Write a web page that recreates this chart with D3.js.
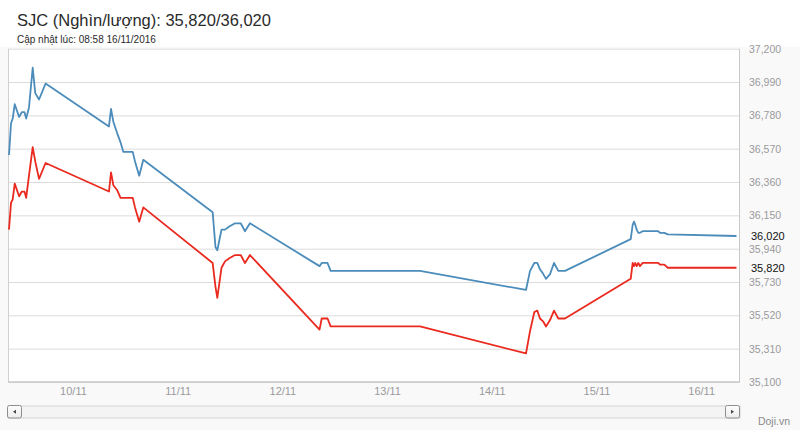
<!DOCTYPE html>
<html>
<head>
<meta charset="utf-8">
<script src="https://cdn.jsdelivr.net/npm/d3@7"></script>
<style>
  body { margin: 0; background: #fff; }
  svg { display: block; font-family: "Liberation Sans", Arial, sans-serif; }
</style>
</head>
<body>
<svg id="chart" width="800" height="430"></svg>
<script>
// gia vang SJC - mua / ban theo thoi diem cap nhat
const times = [
  "09/11/2016 09:20", "09/11/2016 09:48", "09/11/2016 10:11", "09/11/2016 10:39", "09/11/2016 11:39",
  "09/11/2016 12:16", "09/11/2016 12:53", "09/11/2016 13:16", "09/11/2016 13:55", "09/11/2016 14:46",
  "09/11/2016 15:21", "09/11/2016 16:13", "09/11/2016 17:43",
  "10/11/2016 08:15", "10/11/2016 08:43", "10/11/2016 09:15", "10/11/2016 10:06", "10/11/2016 10:54",
  "10/11/2016 11:32", "10/11/2016 13:42", "10/11/2016 14:13", "10/11/2016 15:11", "10/11/2016 16:07",
  "11/11/2016 08:01", "11/11/2016 08:40", "11/11/2016 09:05", "11/11/2016 10:03", "11/11/2016 10:51",
  "11/11/2016 11:50", "11/11/2016 13:09", "11/11/2016 14:27", "11/11/2016 15:26", "11/11/2016 16:34",
  "12/11/2016 08:31", "12/11/2016 09:01", "12/11/2016 10:21", "12/11/2016 11:04", "13/11/2016 07:33",
  "14/11/2016 07:51", "14/11/2016 08:46", "14/11/2016 09:45", "14/11/2016 10:26", "14/11/2016 11:03",
  "14/11/2016 11:49", "14/11/2016 12:26", "14/11/2016 13:21", "14/11/2016 14:16", "14/11/2016 15:15",
  "14/11/2016 16:47",
  "15/11/2016 07:51", "15/11/2016 08:18", "15/11/2016 08:36", "15/11/2016 08:54", "15/11/2016 09:13",
  "15/11/2016 09:36", "15/11/2016 09:58", "15/11/2016 10:36", "15/11/2016 14:10", "15/11/2016 14:34",
  "15/11/2016 15:33", "15/11/2016 16:21",
  "16/11/2016 08:06"
]

const sell = [
  36530, 36730, 36760, 36850, 36770, 36800, 36800, 36760, 36830, 37080, 36920, 36880, 36980,
  36710, 36820, 36740, 36670, 36610, 36550, 36550, 36490, 36400, 36500,
  36170, 35950, 35930, 36060, 36060, 36080, 36100, 36100, 36050, 36100,
  35830, 35850, 35850, 35800, 35800,
  35680, 35800, 35850, 35850, 35810, 35780, 35750, 35780, 35850, 35800, 35800,
  36000, 36090, 36110, 36090, 36060, 36040, 36040, 36050, 36050, 36040, 36040, 36030,
  36020
]

const buy = [
  36060, 36230, 36250, 36350, 36270, 36300, 36300, 36260, 36400, 36580, 36490, 36380, 36480,
  36300, 36420, 36340, 36310, 36260, 36260, 36260, 36200, 36110, 36200,
  35850, 35700, 35630, 35820, 35860, 35880, 35900, 35900, 35850, 35900,
  35430, 35500, 35500, 35450, 35450,
  35280, 35420, 35540, 35550, 35500, 35480, 35450, 35490, 35550, 35500, 35500,
  35750, 35850, 35830, 35850, 35830, 35850, 35830, 35850, 35850, 35840, 35840, 35820,
  35820
]

const yTicks = [35100, 35310, 35520, 35730, 35940, 36150, 36360, 36570, 36780, 36990, 37200]
const xTicks = ["10/11/2016 00:00", "11/11/2016 00:00", "12/11/2016 00:00", "13/11/2016 00:00",
                "14/11/2016 00:00", "15/11/2016 00:00", "16/11/2016 00:00"]

const titleText = "SJC (Nghìn/lượng): 35,820/36,020"
const updText = "Cập nhật lúc: 08:58 16/11/2016"

const parse = d3.timeParse("%d/%m/%Y %H:%M")
const dates = times.map(parse)

const pLeft = 9, pRight = 739, pTop = 48.7, pBottom = 382

const svg = d3.select("#chart")

// nen ngoai khung
svg.append("rect").attr("x", 0).attr("y", 47).attr("width", 800).attr("height", 383).attr("fill", "#f9f9fa")
svg.append("rect").attr("x", pLeft).attr("y", pTop).attr("width", pRight - pLeft).attr("height", pBottom - pTop).attr("fill", "#fff")

const x = d3.scaleTime()
  .domain([dates[0], dates[dates.length - 1]])
  .range([pLeft, 736.5])

const y = d3.scaleLinear()
  .domain([35100, 37200])
  .range([pBottom, pTop])

// luoi ngang
svg.append("g")
  .attr("transform", `translate(${pRight + 1},0)`)
  .call(d3.axisLeft(y).tickValues(yTicks).tickSize(pRight + 1 - pLeft).tickFormat(""))
  .call(g => g.select(".domain").remove())
  .call(g => g.selectAll("line").attr("stroke", "#dcdcdc"))

// vien trai + day
svg.append("line").attr("x1", pLeft - 0.5).attr("x2", pLeft - 0.5).attr("y1", pTop).attr("y2", pBottom)
  .attr("stroke", "#d0d0d0")
svg.append("line").attr("x1", pLeft - 1).attr("x2", pRight).attr("y1", pBottom).attr("y2", pBottom)
  .attr("stroke", "#c8c8c8").attr("stroke-width", 1.5)

// truc phai
svg.append("g")
  .attr("transform", `translate(${pRight},0)`)
  .call(d3.axisRight(y).tickValues(yTicks).tickSize(0).tickPadding(10).tickFormat(d3.format(",")))
  .call(g => g.select(".domain").attr("stroke", "#c8c8c8"))
  .call(g => g.selectAll("text").attr("fill", "#9a9a9a").style("font-size", "10.5px")
    .style("font-family", "'Liberation Sans', Arial, sans-serif"))

// truc duoi
svg.append("g")
  .attr("transform", `translate(0,${pBottom})`)
  .call(d3.axisBottom(x).tickValues(xTicks.map(parse)).tickSize(0).tickPadding(5).tickFormat(d3.timeFormat("%d/%m")))
  .call(g => g.select(".domain").remove())
  .call(g => g.selectAll("text").attr("fill", "#9a9a9a").style("font-size", "11px")
    .style("font-family", "'Liberation Sans', Arial, sans-serif"))

const line = d3.line()
  .x(d => x(d[0]))
  .y(d => y(d[1]))

svg.append("path")
  .datum(dates.map((d, i) => [d, sell[i]]))
  .attr("d", line)
  .attr("fill", "none")
  .attr("stroke", "#4b8cbb")
  .attr("stroke-width", 1.8)
  .attr("stroke-linejoin", "round")

svg.append("path")
  .datum(dates.map((d, i) => [d, buy[i]]))
  .attr("d", line)
  .attr("fill", "none")
  .attr("stroke", "#ea2a1f")
  .attr("stroke-width", 1.8)
  .attr("stroke-linejoin", "round")

// gia hien tai
const last = [sell[sell.length - 1], buy[buy.length - 1]]
svg.selectAll(".cur")
  .data(last)
  .join("text")
  .attr("class", "cur")
  .attr("x", 751)
  .attr("y", d => y(d))
  .attr("dy", "0.35em")
  .attr("fill", "#111")
  .style("font-size", "11px")
  .text(d => d3.format(",")(d))

// tieu de
svg.append("text").attr("x", 17).attr("y", 26).attr("fill", "#2a2a2a")
  .style("font-size", "16.5px").text(titleText)
svg.append("text").attr("x", 17).attr("y", 43).attr("fill", "#2a2a2a")
  .style("font-size", "10px").text(updText)

// thanh cuon
const defs = svg.append("defs")
const grad = defs.append("linearGradient").attr("id", "sb").attr("x1", 0).attr("x2", 0).attr("y1", 0).attr("y2", 1)
grad.append("stop").attr("offset", "0%").attr("stop-color", "#fdfdfd")
grad.append("stop").attr("offset", "100%").attr("stop-color", "#ececec")

svg.append("rect").attr("x", 8).attr("y", 406).attr("width", 732).attr("height", 12)
  .attr("fill", "#f4f4f5").attr("stroke", "#d4d4d4")

const btns = [[7.5, -1], [725.5, 1]]
btns.forEach(([bx, dir]) => {
  svg.append("rect").attr("x", bx).attr("y", 405.5).attr("width", 14).attr("height", 12.5)
    .attr("rx", 2).attr("fill", "url(#sb)").attr("stroke", "#8e8e8e")
  const cx = bx + 7, cy = 411.75
  svg.append("path")
    .attr("d", `M${cx + 1.5 * dir},${cy} L${cx - 1.5 * dir},${cy - 2} L${cx - 1.5 * dir},${cy + 2} Z`)
    .attr("fill", "#444")
})

svg.append("text").attr("x", 790).attr("y", 425).attr("text-anchor", "end")
  .attr("fill", "#8a8a8a").style("font-size", "10.5px").text("Doji.vn")
</script>
</body>
</html>
